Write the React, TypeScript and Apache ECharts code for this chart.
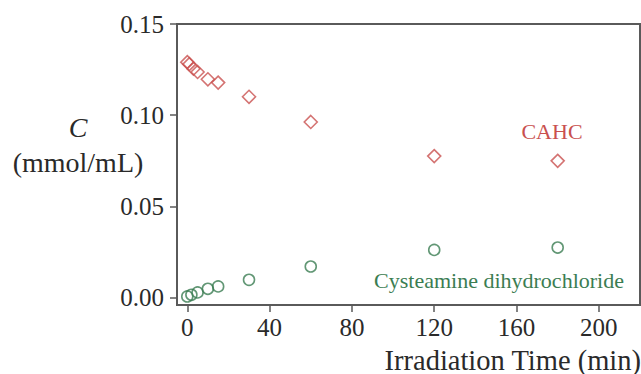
import React, { useEffect, useRef } from "react";
import * as echarts from "echarts";

const cahcX = [0, 1, 3, 5, 10, 15, 30, 60, 120, 180];
const cahcY = [0.1291, 0.128, 0.1255, 0.1237, 0.1197, 0.1179, 0.1101, 0.0963, 0.0776, 0.075];
const cysX = [0, 2, 5, 10, 15, 30, 60, 120, 180];
const cysY = [0.0007, 0.0016, 0.0029, 0.0049, 0.0062, 0.0098, 0.0171, 0.0262, 0.0275];
const xTicks = [0, 40, 80, 120, 160, 200];
const yTicks = [0, 0.05, 0.1, 0.15];

const RED = "#c9504f";
const GREEN = "#3b7d52";
const AXIS = "#5a5a5a";
const FONT = "'Liberation Serif', 'Times New Roman', serif";

export default function App() {
  const ref = useRef<HTMLDivElement>(null);
  useEffect(() => {
    if (!ref.current) return;
    const chart = echarts.init(ref.current, undefined, { renderer: "svg" });
    chart.setOption({
      animation: false,
      backgroundColor: "#ffffff",
      grid: {
        left: 177,
        right: 1,
        top: 24,
        bottom: 69,
        show: true,
        borderColor: AXIS,
        borderWidth: 2,
        backgroundColor: "transparent",
      },
      xAxis: {
        type: "value",
        min: -5,
        max: 220,
        splitLine: { show: false },
        axisLine: { show: true, onZero: false, lineStyle: { color: AXIS, width: 2 } },
        axisTick: {
          show: true,
          length: 7,
          customValues: xTicks,
          lineStyle: { color: AXIS, width: 1.5 },
        },
        axisLabel: {
          customValues: xTicks,
          margin: 10,
          fontSize: 25,
          fontFamily: FONT,
          color: "#2a2a2a",
        },
      },
      yAxis: {
        type: "value",
        min: -0.004,
        max: 0.15,
        splitLine: { show: false },
        axisLine: { show: true, onZero: false, lineStyle: { color: AXIS, width: 2 } },
        axisTick: {
          show: true,
          length: 7,
          customValues: yTicks,
          lineStyle: { color: AXIS, width: 1.5 },
        },
        axisLabel: {
          customValues: yTicks,
          margin: 13,
          fontSize: 25,
          fontFamily: FONT,
          color: "#2a2a2a",
          formatter: (v: number) => v.toFixed(2),
        },
      },
      series: [
        {
          name: "CAHC",
          type: "scatter",
          symbol: "diamond",
          symbolSize: 13,
          data: cahcX.map((x, i) => [x, cahcY[i]]),
          itemStyle: { color: "transparent", borderColor: RED, borderWidth: 1.6 },
        },
        {
          name: "Cysteamine dihydrochloride",
          type: "scatter",
          symbol: "circle",
          symbolSize: 11,
          data: cysX.map((x, i) => [x, cysY[i]]),
          itemStyle: { color: "transparent", borderColor: GREEN, borderWidth: 1.6 },
        },
      ],
      graphic: [
        {
          type: "text",
          x: 552,
          y: 131,
          style: {
            text: "CAHC",
            fill: RED,
            font: `22px ${FONT}`,
            textAlign: "center",
            textVerticalAlign: "middle",
          },
        },
        {
          type: "text",
          x: 499,
          y: 280,
          style: {
            text: "Cysteamine dihydrochloride",
            fill: GREEN,
            font: `22px ${FONT}`,
            textAlign: "center",
            textVerticalAlign: "middle",
          },
        },
        {
          type: "text",
          x: 641,
          y: 360,
          style: {
            text: "Irradiation Time (min)",
            fill: "#2a2a2a",
            font: `28.5px ${FONT}`,
            textAlign: "right",
            textVerticalAlign: "middle",
          },
        },
        {
          type: "text",
          x: 78,
          y: 127,
          style: {
            text: "C",
            fill: "#2a2a2a",
            font: `italic 28px ${FONT}`,
            textAlign: "center",
            textVerticalAlign: "middle",
          },
        },
        {
          type: "text",
          x: 78,
          y: 162,
          style: {
            text: "(mmol/mL)",
            fill: "#2a2a2a",
            font: `28px ${FONT}`,
            textAlign: "center",
            textVerticalAlign: "middle",
          },
        },
      ],
    });
    return () => chart.dispose();
  }, []);
  return (
    <div
      ref={ref}
      style={{ position: "fixed", left: 0, top: 0, width: 641, height: 374 }}
    />
  );
}
